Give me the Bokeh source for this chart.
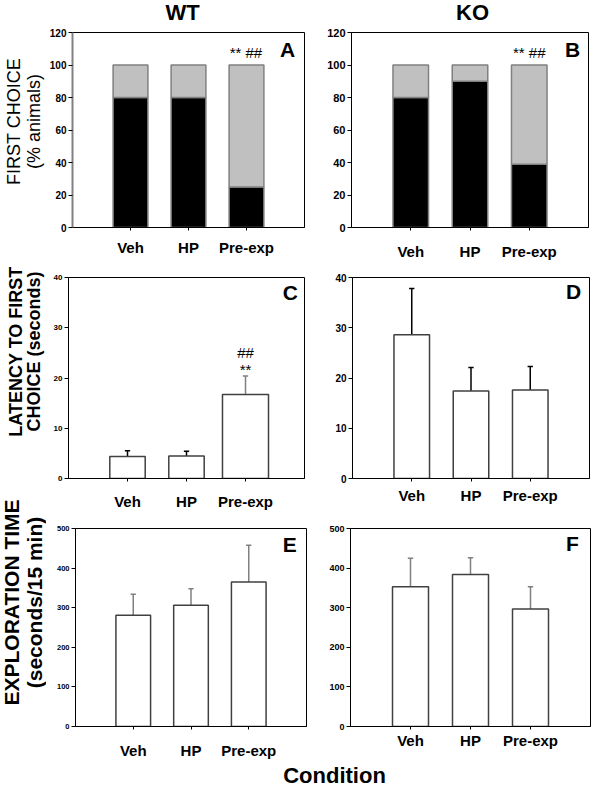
from math import pi
from bokeh.plotting import figure
from bokeh.layouts import column, row
from bokeh.models import Range1d, FixedTicker, Label
from bokeh.core.properties import value
from bokeh.embed import file_html
from bokeh.resources import INLINE

# ---------------- data ----------------
conditions = ["Veh", "HP", "Pre-exp"]
positions = [1, 2, 3]

# first choice (% animals): black part, grey part fills to 100
wt_first_choice = [80, 80, 25]
ko_first_choice = [80, 90, 39]
total_pct = 100

# latency to first choice (seconds): mean and SEM
wt_latency = [4.4, 4.5, 16.7]
wt_latency_sem = [1.1, 0.9, 3.7]
ko_latency = [28.6, 17.4, 17.6]
ko_latency_sem = [9.2, 4.7, 4.7]

# exploration time (seconds/15 min): mean and SEM
wt_explore = [281, 306, 365]
wt_explore_sem = [53, 42, 93]
ko_explore = [353, 384, 297]
ko_explore_sem = [72, 42, 56]

pct_ticks = [0, 20, 40, 60, 80, 100, 120]
lat_ticks = [0, 10, 20, 30, 40]
exp_ticks = [0, 100, 200, 300, 400, 500]

FONT = "Liberation Sans"


def make_fig(width, height, left, right, top, bottom, ymax, yticks,
             ytick_size, xstandoff, left_axis_color="black", left_axis_width=1):
    p = figure(width=width, height=height, x_range=Range1d(0, 4),
               y_range=Range1d(0, ymax), output_backend="svg",
               toolbar_location=None, min_border_left=left,
               min_border_right=right, min_border_top=top,
               min_border_bottom=bottom)
    p.grid.visible = False
    p.outline_line_color = "black"
    p.outline_line_width = 1
    p.background_fill_color = "white"
    p.border_fill_color = "white"

    xa = p.xaxis[0]
    xa.ticker = FixedTicker(ticks=positions)
    xa.major_label_overrides = {pos: c for pos, c in zip(positions, conditions)}
    xa.major_label_text_font = FONT
    xa.major_label_text_font_style = "bold"
    xa.major_label_text_font_size = "15px"
    xa.major_label_text_color = "black"
    xa.major_tick_out = 3
    xa.major_tick_in = 0
    xa.minor_tick_out = 0
    xa.minor_tick_in = 0
    xa.major_label_standoff = xstandoff
    xa.axis_line_color = "black"

    ya = p.yaxis[0]
    ya.ticker = FixedTicker(ticks=yticks)
    ya.major_label_text_font = FONT
    ya.major_label_text_font_style = "bold"
    ya.major_label_text_font_size = ytick_size
    ya.major_label_text_color = "black"
    ya.major_tick_out = 4
    ya.major_tick_in = 0
    ya.minor_tick_out = 0
    ya.minor_tick_in = 0
    ya.major_label_standoff = 2
    ya.axis_line_color = left_axis_color
    ya.axis_line_width = left_axis_width
    ya.major_tick_line_color = "black"
    return p


def add_text(p, x, y, txt, size="15px", style="normal"):
    p.add_layout(Label(x=x, y=y, text=txt, text_font=FONT,
                       text_font_size=size, text_font_style=style,
                       text_align="center", text_baseline="middle",
                       text_color="black"))


def stacked(p, first):
    rest_top = [total_pct for _ in first]
    p.vbar(x=positions, bottom=0, top=first, width=0.6, fill_color="black",
           line_color="#808080", line_width=1.5)
    p.vbar(x=positions, bottom=first, top=rest_top, width=0.6,
           fill_color="#c0c0c0", line_color="#808080", line_width=1.5)


def bars_err(p, means, sems, widths, err_colors, cap=0.045):
    tops = [m + s for m, s in zip(means, sems)]
    p.segment(x0=positions, y0=means, x1=positions, y1=tops,
              line_color=err_colors, line_width=1.5)
    p.segment(x0=[x - cap for x in positions], y0=tops,
              x1=[x + cap for x in positions], y1=tops,
              line_color=err_colors, line_width=1.5)
    p.vbar(x=positions, bottom=0, top=means, width=widths, fill_color="white",
           line_color="#404040", line_width=1.5)


def blank_fig(width, height):
    f = figure(width=width, height=height, x_range=Range1d(0, width),
               y_range=Range1d(0, height), output_backend="svg",
               toolbar_location=None, min_border=0)
    f.axis.visible = False
    f.grid.visible = False
    f.outline_line_color = None
    f.background_fill_color = "white"
    f.border_fill_color = "white"
    return f


# ---------------- titles row ----------------
fT = blank_fig(591, 24)
fT.text(x=[182, 472], y=[12, 12], text=["WT", "KO"], text_font=value(FONT),
        text_font_size="22px", text_font_style="bold", text_align="center",
        text_baseline="middle", text_color="black")

# ---------------- y-axis titles column ----------------
fL = blank_fig(46, 737)
fL.text(x=[13.6, 33], y=[640, 640], text=["FIRST CHOICE", "(% animals)"],
        angle=pi / 2, text_font=value(FONT), text_font_size="18px",
        text_align="center", text_baseline="middle", text_color="black")
fL.text(x=[15.6, 33], y=[410, 410], text=["LATENCY TO FIRST", "CHOICE (seconds)"],
        angle=pi / 2, text_font=value(FONT), text_font_size="18px",
        text_font_style="bold", text_align="center", text_baseline="middle",
        text_color="black")
fL.text(x=[10.5, 34], y=[159, 159], text=["EXPLORATION TIME", "(seconds/15 min)"],
        angle=pi / 2, text_font=value(FONT), text_font_size="21px",
        text_font_style="bold", text_align="center", text_baseline="middle",
        text_color="black")

# ---------------- row 1 ----------------
fA = make_fig(278, 238, 22, 20, 8, 30, 120, pct_ticks, "10px", 8,
              left_axis_color="#808080", left_axis_width=2)
stacked(fA, wt_first_choice)
add_text(fA, 3.71, 109.8, "A", "21px", "bold")
add_text(fA, 2.99, 107.4, "** ##", "15px")

fB = make_fig(267, 238, 26, 3, 6, 32, 120, pct_ticks, "11px", 12)
stacked(fB, ko_first_choice)
add_text(fB, 3.73, 109.8, "B", "21px", "bold")
add_text(fB, 3.0, 108, "** ##", "15px")

# ---------------- row 2 ----------------
fC = make_fig(278, 250, 22, 20, 15, 33, 40, lat_ticks, "8px", 11)
bars_err(fC, wt_latency, wt_latency_sem, [0.6, 0.6, 0.78],
         ["black", "black", "#808080"])
add_text(fC, 3.76, 37.0, "C", "21px", "bold")
add_text(fC, 3.0, 25.1, "##", "15px")
add_text(fC, 3.0, 21.7, "**", "15px")

fD = make_fig(267, 250, 28, 2, 15, 33, 40, lat_ticks, "10px", 5)
bars_err(fD, ko_latency, ko_latency_sem, [0.6, 0.6, 0.6],
         ["black", "black", "black"])
add_text(fD, 3.73, 37.2, "D", "21px", "bold")

# ---------------- row 3 ----------------
fE = make_fig(278, 249, 29, 18, 16, 32, 500, exp_ticks, "7.5px", 12)
bars_err(fE, wt_explore, wt_explore_sem, [0.6, 0.6, 0.6],
         ["#808080", "#808080", "#808080"])
add_text(fE, 3.71, 458.5, "E", "21px", "bold")

fF = make_fig(267, 249, 26, 1, 14, 29, 500, exp_ticks, "9px", 2)
bars_err(fF, ko_explore, ko_explore_sem, [0.6, 0.6, 0.6],
         ["#808080", "#808080", "#808080"])
add_text(fF, 3.7, 462, "F", "21px", "bold")

# ---------------- x label ----------------
fX = blank_fig(591, 26)
fX.text(x=[334], y=[12], text=["Condition"], text_font=value(FONT),
        text_font_size="22px", text_font_style="bold", text_align="center",
        text_baseline="middle", text_color="black")

panels = column(row(fA, fB), row(fC, fD), row(fE, fF))
layout = column(fT, row(fL, panels), fX)
open("out.html", "w").write(file_html(layout, INLINE))
